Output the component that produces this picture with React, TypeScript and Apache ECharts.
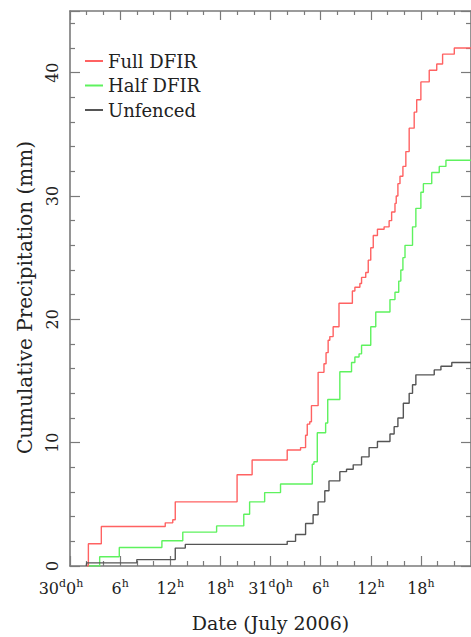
import React, { useEffect, useRef } from "react";
import * as echarts from "echarts";

const seriesNames = ["Full DFIR", "Half DFIR", "Unfenced"];
const seriesColors = ["#ff6262", "#5ef25e", "#555555"];

// hours since 30 July 00h, cumulative precipitation (mm)
const fullDfirHours = [2.0, 2.2, 3.75, 11.4, 12.3, 12.6, 20.0, 21.8, 26.0, 27.6, 28.2, 28.4, 28.7, 28.9, 29.7, 30.4, 30.65, 30.9, 31.1, 31.5, 32.2, 33.8, 34.1, 34.7, 34.9, 35.4, 35.7, 36.0, 36.3, 36.8, 37.6, 38.2, 38.5, 38.9, 39.05, 39.25, 39.5, 39.85, 40.2, 40.6, 41.2, 41.5, 42.0, 43.0, 43.9, 44.6, 46.0, 48.0];
const fullDfirMm = [0, 1.8, 3.2, 3.5, 3.75, 5.2, 7.4, 8.6, 9.4, 9.6, 10.6, 11.5, 11.7, 13.0, 15.7, 16.4, 17.3, 18.3, 18.6, 19.4, 21.3, 22.3, 22.6, 22.9, 23.4, 23.8, 24.8, 25.8, 26.8, 27.3, 27.5, 28.0, 28.7, 29.4, 30.0, 31.0, 31.6, 32.4, 33.6, 35.5, 36.8, 37.8, 39.25, 40.2, 40.7, 41.5, 42.0, 42.0];

const halfDfirHours = [2.25, 3.55, 5.9, 11.0, 13.5, 17.55, 20.8, 21.5, 23.3, 25.2, 29.0, 29.2, 29.6, 30.6, 30.85, 32.3, 33.7, 34.1, 34.6, 34.9, 36.0, 36.6, 38.3, 38.9, 39.35, 39.6, 39.85, 40.1, 41.0, 41.4, 42.0, 42.3, 43.3, 44.2, 45.0, 48.0];
const halfDfirMm = [0, 0.75, 1.5, 2.05, 2.75, 3.25, 4.2, 5.2, 5.95, 6.65, 8.25, 8.45, 10.8, 11.6, 13.5, 15.75, 16.5, 16.95, 17.2, 17.9, 19.4, 20.6, 21.6, 22.2, 23.1, 24.0, 25.0, 26.0, 27.5, 29.0, 30.3, 31.0, 31.9, 32.4, 32.9, 32.9];

const unfencedHours = [1.95, 2.0, 8.0, 12.6, 13.8, 26.0, 27.0, 28.2, 29.1, 29.7, 30.5, 31.0, 32.3, 33.1, 33.9, 34.9, 35.8, 36.8, 38.3, 38.8, 39.25, 39.9, 40.6, 41.0, 41.4, 43.6, 44.4, 45.7, 48.0];
const unfencedMm = [0, 0.25, 0.52, 1.45, 1.75, 2.0, 2.55, 3.45, 4.15, 5.2, 6.1, 6.9, 7.65, 7.85, 8.2, 8.85, 9.6, 10.1, 10.7, 11.3, 12.0, 13.2, 14.0, 14.7, 15.5, 15.9, 16.2, 16.5, 16.5];

const allHours = [fullDfirHours, halfDfirHours, unfencedHours];
const allMm = [fullDfirMm, halfDfirMm, unfencedMm];

const FONT = "DejaVu Serif";
const TEXT = "#222";
const AXIS = "#7a7a7a";

function xLabel(v: number): string {
  const h = Math.round(v) % 24;
  if (h === 0) {
    const day = 30 + Math.round(v) / 24;
    return "{n|" + day + "}{s|d}{n|0}{s|h}" + (day === 30 ? "{sp|}" : "");
  }
  return "{n|" + h + "}{s|h}";
}

const rich = {
  n: { fontSize: 16, fontFamily: FONT, color: TEXT, lineHeight: 20 },
  s: { fontSize: 11, fontFamily: FONT, color: TEXT, lineHeight: 12, verticalAlign: "top" },
  sp: { width: 18 },
};

export default function App() {
  const ref = useRef<HTMLDivElement>(null);
  useEffect(() => {
    if (!ref.current) return;
    const chart = echarts.init(ref.current, null, { renderer: "svg" });
    const axisLine = { show: true, onZero: false, lineStyle: { color: AXIS, width: 1.6 } };
    const tickStyle = { color: AXIS, width: 1.2 };
    chart.setOption({
      animation: false,
      backgroundColor: "#fff",
      grid: { left: 70, right: -4.6, top: 11, bottom: 65.5, containLabel: false },
      legend: {
        orient: "vertical",
        left: 80,
        top: 46,
        itemWidth: 18,
        itemHeight: 2,
        itemGap: 4.5,
        icon: "rect",
        textStyle: { fontFamily: FONT, fontSize: 18, color: TEXT, lineHeight: 20 },
        data: seriesNames.map((n, i) => ({ name: n, itemStyle: { color: seriesColors[i] } })),
      },
      xAxis: [
        {
          type: "value",
          position: "bottom",
          min: 0,
          max: 48,
          interval: 6,
          axisLine,
          splitLine: { show: false },
          axisTick: { inside: true, length: 10, lineStyle: tickStyle },
          minorTick: { show: true, splitNumber: 3, length: 5, lineStyle: tickStyle },
          axisLabel: { formatter: xLabel, rich, margin: 12, showMaxLabel: false, showMinLabel: true },
          name: "Date (July 2006)",
          nameLocation: "middle",
          nameGap: 47,
          nameTextStyle: { fontFamily: FONT, fontSize: 19, color: TEXT },
        },
        {
          type: "value",
          position: "top",
          min: 0,
          max: 48,
          interval: 6,
          axisLine,
          splitLine: { show: false },
          axisTick: { inside: true, length: 9, lineStyle: tickStyle },
          minorTick: { show: true, splitNumber: 3, length: 4, lineStyle: tickStyle },
          axisLabel: { show: false },
        },
      ],
      yAxis: [
        {
          type: "value",
          position: "left",
          min: 0,
          max: 45,
          interval: 10,
          axisLine,
          splitLine: { show: false },
          axisTick: { inside: true, length: 10, lineStyle: tickStyle },
          minorTick: { show: true, splitNumber: 5, length: 5, lineStyle: tickStyle },
          axisLabel: { rotate: 90, fontFamily: FONT, fontSize: 16, color: TEXT, margin: 10, showMaxLabel: false },
          name: "Cumulative Precipitation (mm)",
          nameLocation: "middle",
          nameRotate: 90,
          nameGap: 35,
          nameTextStyle: { fontFamily: FONT, fontSize: 20, color: TEXT, padding: [0, 18, 0, 0] },
        },
        {
          type: "value",
          position: "right",
          min: 0,
          max: 45,
          interval: 10,
          axisLine,
          splitLine: { show: false },
          axisTick: { inside: true, length: 10, lineStyle: tickStyle },
          minorTick: { show: true, splitNumber: 5, length: 5, lineStyle: tickStyle },
          axisLabel: { show: false },
        },
      ],
      series: seriesNames.map((name, i) => ({
        name,
        type: "line",
        step: "end",
        showSymbol: false,
        symbol: "none",
        xAxisIndex: 0,
        yAxisIndex: 0,
        color: seriesColors[i],
        lineStyle: { color: seriesColors[i], width: 1.4 },
        data: allHours[i].map((h, j) => [h, allMm[i][j]]),
      })),
    });
    return () => chart.dispose();
  }, []);
  return (
    <div
      ref={ref}
      style={{ position: "fixed", left: 0, top: 0, width: 471, height: 637, background: "#fff" }}
    />
  );
}
